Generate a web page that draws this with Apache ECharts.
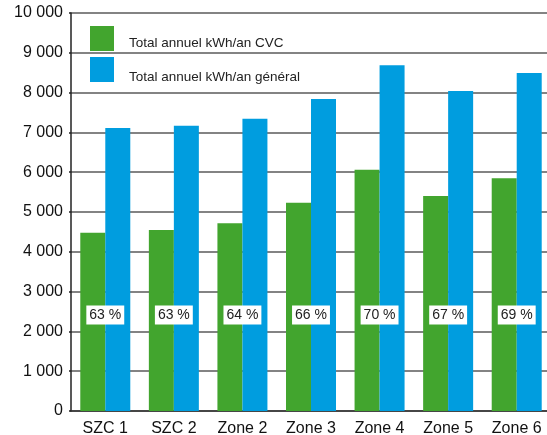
<!DOCTYPE html>
<html lang="fr">
    <head>
        <meta charset="utf-8" />
        <title>Total annuel kWh/an</title>
        <style type="text/css">
            html, body { margin: 0; padding: 0; background: #ffffff; }
            #chart { width: 547px; height: 435px; }
        </style>
    </head>
    <body>
        <div id="chart"></div>

        <script src="https://cdn.jsdelivr.net/npm/echarts@6.0.0/dist/echarts.min.js"></script>
        <script>
            // ---------- data ----------
            const categories = ['SZC 1', 'SZC 2', 'Zone 2', 'Zone 3', 'Zone 4', 'Zone 5', 'Zone 6'];
            const cvcValues = [4480, 4550, 4720, 5230, 6060, 5400, 5850];
            const generalValues = [7110, 7170, 7340, 7840, 8690, 8040, 8490];
            const percentLabels = ['63 %', '63 %', '64 %', '66 %', '70 %', '67 %', '69 %'];
            const percentLevel = 2410; // height where the % boxes sit

            const FONT = 'Liberation Sans, Arial, sans-serif';
            const NAME_CVC = 'Total annuel kWh/an CVC';
            const NAME_GEN = 'Total annuel kWh/an général';

            // "10000" -> "10 000"
            const fmt = (v) => String(v).replace(/\B(?=(\d{3})+(?!\d))/g, ' ');

            let chart = echarts.init(document.querySelector('#chart'), null, { renderer: 'canvas' });

            const option = {
                animation: false,
                textStyle: { fontFamily: FONT },
                grid: {
                    left: 71,
                    right: -4,
                    top: 13,
                    bottom: 24,
                    containLabel: false,
                    outerBoundsMode: 'none'
                },
                legend: {
                    data: [NAME_CVC, NAME_GEN],
                    orient: 'vertical',
                    left: 90,
                    top: 26,
                    padding: 0,
                    itemWidth: 24,
                    itemHeight: 25,
                    itemGap: 6,
                    icon: 'rect',
                    selectedMode: false,
                    // text sits a bit below the centre of each square
                    formatter: (name) => (name === NAME_CVC ? '{a|' : '{b|') + name + '}',
                    textStyle: {
                        fontFamily: FONT,
                        fontSize: 13.5,
                        color: '#222',
                        rich: {
                            a: { fontFamily: FONT, fontSize: 13.5, color: '#222', padding: [9, 0, 0, 10] },
                            b: { fontFamily: FONT, fontSize: 13.5, color: '#222', padding: [15, 0, 0, 10] }
                        }
                    }
                },
                xAxis: {
                    type: 'category',
                    data: categories,
                    axisLine: { lineStyle: { color: '#333', width: 1.5 } },
                    axisTick: { inside: true, length: 9, lineStyle: { color: '#222', width: 1.5 } },
                    axisLabel: { fontFamily: FONT, fontSize: 16, color: '#111', margin: 10 }
                },
                yAxis: {
                    type: 'value',
                    min: 0,
                    max: 10000,
                    interval: 1000,
                    axisLine: { show: true, lineStyle: { color: '#222', width: 1.5 } },
                    axisTick: { show: true, length: 2, lineStyle: { color: '#222', width: 1.5 } },
                    axisLabel: {
                        fontFamily: FONT,
                        fontSize: 16,
                        color: '#111',
                        margin: 8,
                        formatter: fmt
                    },
                    splitLine: { lineStyle: { color: '#5a5a5a', width: 1.5 } }
                },
                series: [
                    {
                        name: NAME_CVC,
                        type: 'bar',
                        data: cvcValues,
                        barWidth: 25,
                        barGap: '0%',
                        itemStyle: { color: '#42a52e' }
                    },
                    {
                        name: NAME_GEN,
                        type: 'bar',
                        data: generalValues,
                        barWidth: 25,
                        barGap: '0%',
                        itemStyle: { color: '#009ddf' }
                    },
                    {
                        name: 'pct',
                        type: 'scatter',
                        data: categories.map((c, i) => [c, percentLevel]),
                        symbolSize: 1,
                        itemStyle: { color: 'rgba(0,0,0,0)', opacity: 1 },
                        emphasis: { disabled: true },
                        z: 5,
                        label: {
                            show: true,
                            position: 'inside',
                            formatter: (p) => percentLabels[p.dataIndex],
                            fontFamily: FONT,
                            fontSize: 14,
                            color: '#222',
                            backgroundColor: '#ffffff',
                            padding: [3, 3, 2, 3]
                        }
                    }
                ]
            };

            chart.setOption(option);
        </script>
    </body>
</html>
